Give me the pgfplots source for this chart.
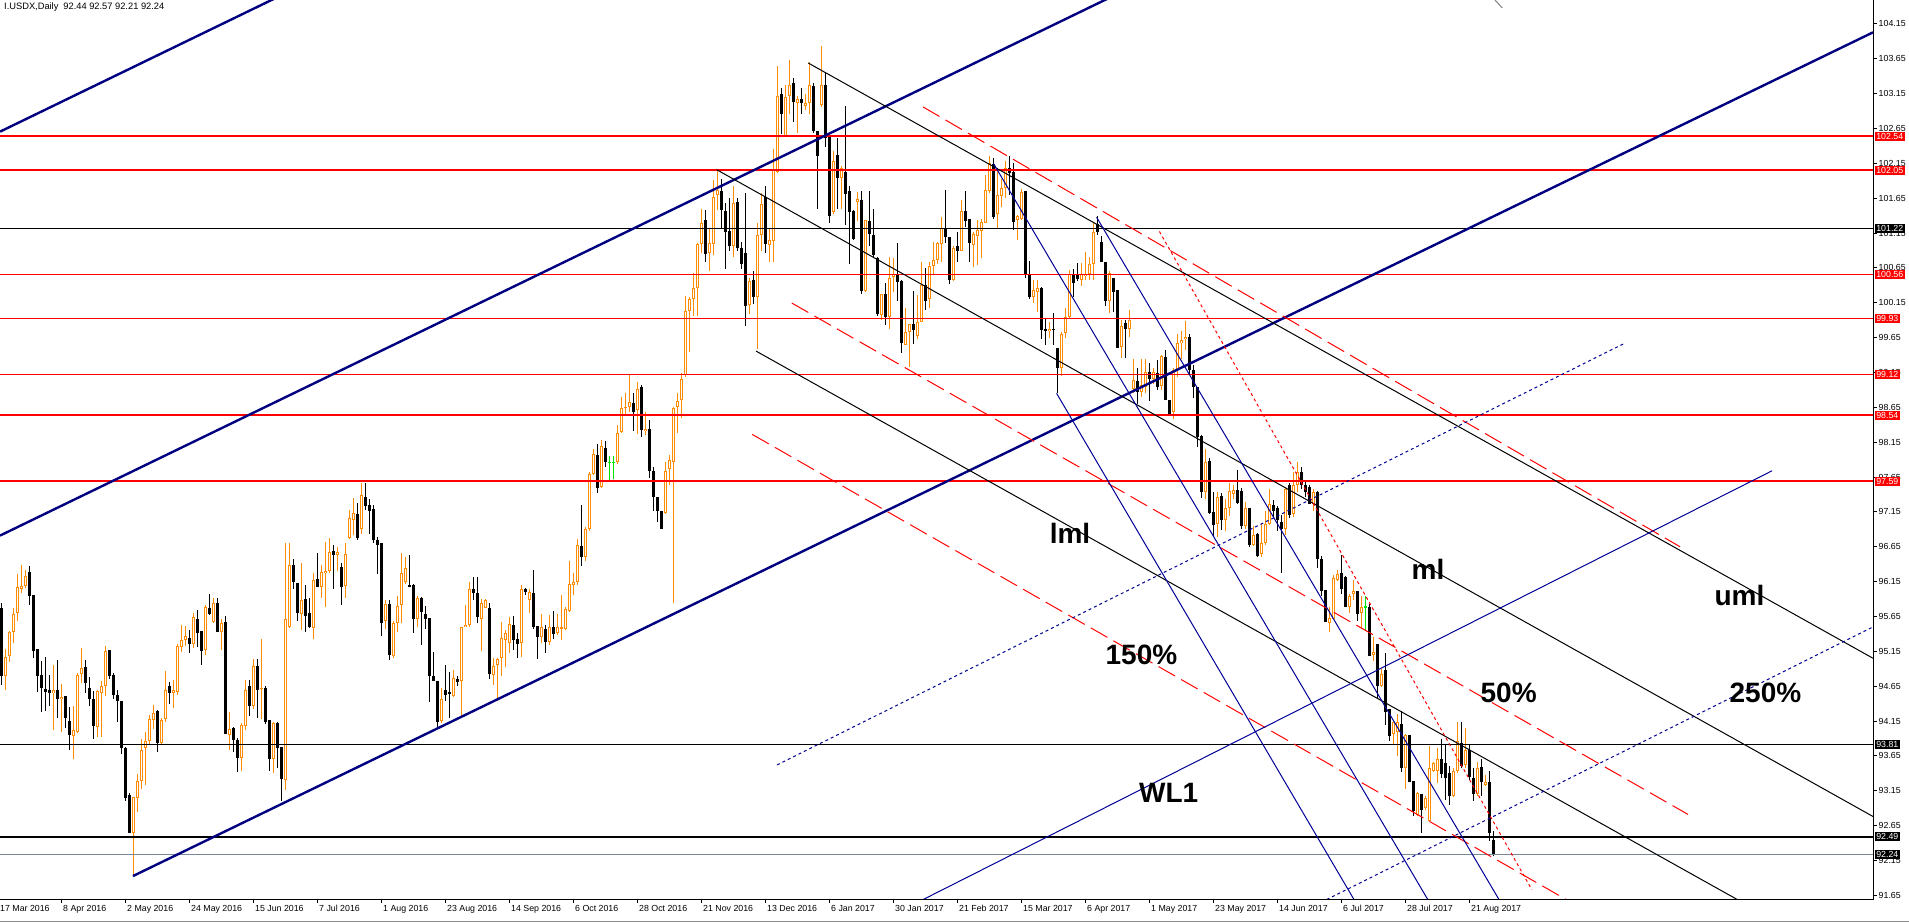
\documentclass[border=0pt]{standalone}
\usepackage{fontspec}
\setmainfont{Liberation Sans}
\usepackage{pgfplots}
\usepackage{pgfplotstable}
\pgfplotsset{compat=1.18}
\definecolor{mtorange}{RGB}{255,140,0}
\definecolor{navyc}{RGB}{0,0,128}
\definecolor{bluec}{RGB}{0,0,150}
\definecolor{slategr}{RGB}{119,136,153}
\definecolor{limec}{RGB}{0,230,0}

\pgfplotstableread{
x O H L C
2 94.80 95.18 94.59 95.07
3 95.09 95.44 95.00 95.43
4 95.43 95.77 95.27 95.69
5 95.70 96.26 95.58 96.07
6 96.05 96.39 95.99 96.09
7 96.09 96.32 96.06 96.23
14 94.55 94.96 94.02 94.59
16 94.47 94.68 94.00 94.50
19 93.94 94.36 93.61 94.02
20 93.99 94.84 93.98 94.81
21 94.82 95.20 94.70 94.91
25 94.07 94.60 93.92 94.58
26 94.56 94.73 93.92 94.66
27 94.66 95.23 94.51 95.15
34 92.55 93.06 91.93 93.06
35 93.04 93.39 92.85 93.29
36 93.29 93.89 93.18 93.74
37 93.76 93.99 93.24 93.87
38 93.87 94.24 93.81 94.18
39 94.17 94.38 94.04 94.27
41 93.84 94.20 93.80 94.16
42 94.18 94.87 94.14 94.60
44 94.56 94.74 94.34 94.60
45 94.57 95.26 94.53 95.23
46 95.22 95.53 95.14 95.31
47 95.31 95.51 95.23 95.37
49 95.26 95.70 95.20 95.64
52 95.17 95.81 95.09 95.79
54 95.57 95.92 95.55 95.85
56 95.42 95.62 95.17 95.55
58 93.95 94.28 93.74 94.04
61 93.62 94.12 93.44 94.10
62 94.08 94.74 94.02 94.60
64 94.36 95.04 94.32 94.94
66 94.61 95.33 94.18 94.63
69 93.60 94.14 93.41 94.12
72 93.31 96.71 93.16 95.61
73 95.50 96.71 95.49 96.39
76 95.69 96.42 95.46 95.89
79 95.48 96.28 95.32 96.18
81 96.08 96.39 95.92 96.29
82 96.27 96.72 95.79 96.30
83 96.30 96.77 96.28 96.57
85 96.53 96.65 96.30 96.58
87 96.08 96.70 95.92 96.55
88 96.77 97.18 96.76 97.06
89 97.04 97.35 96.82 97.14
91 96.91 97.57 96.83 97.40
97 95.59 95.88 95.47 95.83
99 95.08 95.58 95.05 95.55
100 95.55 95.94 95.43 95.80
101 95.81 96.56 95.55 96.27
102 96.15 96.50 96.12 96.35
105 95.62 95.94 95.50 95.92
111 94.15 94.62 94.12 94.46
114 94.51 94.88 94.49 94.76
116 94.73 95.50 94.21 95.50
117 95.50 95.81 95.50 95.53
118 95.53 96.14 95.50 96.05
121 95.62 95.90 95.16 95.85
122 95.77 95.90 95.77 95.89
124 94.81 95.05 94.67 94.94
125 94.95 95.06 94.44 95.04
126 95.05 95.57 94.80 95.34
127 95.31 95.46 94.93 95.41
128 95.27 95.65 95.12 95.54
131 95.27 96.10 95.07 96.05
133 95.88 96.04 95.70 96.00
136 95.36 95.69 95.27 95.50
138 95.29 95.67 95.24 95.50
140 95.41 95.69 95.38 95.50
141 95.48 95.96 95.31 95.49
142 95.47 95.79 95.45 95.76
143 95.73 96.44 95.72 96.12
144 96.10 96.27 95.96 96.15
145 96.15 96.76 96.10 96.67
147 96.51 96.94 96.44 96.90
148 96.90 97.73 96.87 97.70
149 97.70 98.05 97.68 97.98
151 97.51 98.18 97.49 98.09
155 97.86 98.40 97.84 98.29
156 98.29 98.80 98.28 98.64
157 98.64 98.85 98.56 98.66
158 98.66 99.13 98.59 98.72
160 98.61 99.01 98.27 98.92
162 98.31 98.59 98.25 98.34
167 97.14 97.86 97.12 97.74
168 97.76 97.97 97.54 97.89
169 97.87 98.66 95.85 98.64
170 98.66 98.85 98.29 98.74
171 98.76 99.14 98.50 99.06
172 99.11 100.25 99.09 100.04
173 100.03 100.24 99.45 100.20
174 100.20 100.58 99.96 100.37
175 100.36 101.01 99.96 100.99
176 101.00 101.49 100.86 101.30
178 100.86 101.22 100.61 101.01
179 101.00 101.91 100.84 101.67
180 101.70 102.06 101.48 101.77
184 100.97 101.82 100.81 101.58
188 100.12 100.50 99.99 100.47
190 100.23 101.29 99.48 101.13
191 101.13 101.72 100.89 101.57
193 100.98 101.21 100.73 101.05
194 101.04 102.35 100.73 102.05
195 102.03 103.55 102.01 103.12
197 102.55 103.28 102.53 103.11
198 103.12 103.64 102.86 103.28
200 103.02 103.12 102.59 103.07
202 102.98 103.15 102.92 103.02
203 103.02 103.60 102.86 103.27
206 102.99 103.84 102.96 103.27
209 101.45 102.33 101.42 102.19
211 101.94 102.11 101.50 102.09
215 101.60 101.74 101.32 101.64
217 100.32 101.34 100.31 101.34
221 99.98 100.28 99.91 100.27
223 99.94 100.80 99.78 100.50
224 100.52 100.80 100.31 100.57
227 99.55 100.07 99.55 99.73
228 99.73 99.85 99.23 99.84
230 99.67 100.26 99.63 99.88
231 99.88 100.73 99.87 100.41
233 100.20 100.73 100.07 100.68
234 100.68 101.02 100.57 100.77
235 100.76 101.02 100.71 101.01
236 100.99 101.38 100.73 101.23
239 100.48 100.97 100.47 100.94
241 100.90 101.63 100.90 101.46
244 100.98 101.17 100.67 101.14
245 101.11 101.34 100.69 101.20
246 101.18 101.36 100.79 101.31
247 101.29 101.99 101.29 101.77
248 101.75 102.26 101.72 102.15
250 101.43 102.08 101.22 101.69
251 101.68 101.92 101.53 101.79
252 101.79 102.19 101.65 102.09
255 101.34 101.41 101.05 101.39
256 101.35 101.79 101.34 101.74
259 100.23 100.48 100.14 100.34
260 100.31 100.48 100.02 100.37
263 99.74 99.88 99.64 99.77
266 99.22 99.73 99.10 99.70
267 99.71 100.07 99.64 99.94
268 99.94 100.62 99.93 100.57
271 100.48 100.72 100.39 100.57
272 100.54 100.88 100.48 100.57
273 100.56 100.81 100.48 100.71
274 100.71 101.29 100.48 101.17
278 100.17 100.60 100.01 100.58
281 99.52 99.91 99.36 99.82
283 99.78 100.05 99.66 99.91
284 98.92 99.34 98.85 99.04
286 98.87 99.34 98.80 98.97
287 98.94 99.34 98.85 99.15
289 99.05 99.22 98.98 99.15
291 98.95 99.40 98.90 99.39
294 98.59 99.21 98.48 99.19
295 99.18 99.71 99.09 99.58
296 99.57 99.74 99.35 99.62
297 99.63 99.89 99.47 99.66
302 97.44 98.06 97.33 97.86
305 96.98 97.43 96.79 97.37
307 97.03 97.33 96.87 97.20
308 97.20 97.57 97.09 97.45
309 97.40 97.54 97.33 97.47
312 96.95 97.29 96.90 97.21
314 96.68 96.95 96.66 96.82
316 96.55 96.98 96.50 96.71
317 96.71 97.16 96.68 96.98
318 96.98 97.48 96.96 97.27
322 96.90 97.51 96.82 97.48
324 97.12 97.72 97.08 97.53
325 97.53 97.86 97.43 97.73
329 97.27 97.48 97.16 97.44
333 95.56 95.78 95.43 95.63
334 95.62 96.25 95.61 96.20
335 96.18 96.32 96.16 96.26
338 95.79 95.98 95.70 95.94
339 95.97 96.18 95.89 96.02
341 95.70 95.94 95.49 95.79
344 95.10 95.35 95.01 95.14
346 94.65 94.89 94.64 94.83
349 93.96 94.14 93.81 94.14
350 94.00 94.25 93.65 94.13
352 93.47 93.97 93.17 93.95
355 92.80 93.13 92.79 93.12
357 92.90 93.07 92.88 93.04
358 92.72 93.79 92.71 93.47
359 93.44 93.56 93.42 93.55
360 93.44 93.77 93.26 93.61
364 93.07 93.48 93.06 93.44
365 93.44 94.14 93.41 93.86
367 93.52 94.05 93.47 93.73
370 93.10 93.56 93.08 93.48
372 93.23 93.38 93.22 93.28
}\bull

\pgfplotstableread{
x O H L C
1 95.77 95.84 94.66 94.80
8 96.29 96.37 95.81 95.95
9 95.96 95.96 95.06 95.16
10 95.18 95.19 94.56 94.79
11 94.81 95.01 94.28 94.62
12 94.61 95.07 94.30 94.57
13 94.60 94.81 94.37 94.56
15 94.59 95.03 94.19 94.47
17 94.51 94.51 94.05 94.20
18 94.15 94.35 93.73 93.95
22 94.92 95.03 94.56 94.70
23 94.63 94.78 94.37 94.46
24 94.47 94.58 93.89 94.08
28 95.17 95.17 94.75 94.80
29 94.81 94.84 94.47 94.52
30 94.52 94.60 94.14 94.44
31 94.44 94.44 93.68 93.77
32 93.77 93.78 93.01 93.05
33 93.09 93.12 92.54 92.55
40 94.29 94.31 93.70 93.83
43 94.65 94.71 94.39 94.56
48 95.34 95.46 95.13 95.26
50 95.61 95.74 95.22 95.42
51 95.44 95.44 94.95 95.15
53 95.77 95.98 95.67 95.69
55 95.84 95.92 95.42 95.42
57 95.57 95.66 93.97 93.97
59 94.05 94.06 93.70 93.88
60 93.88 93.90 93.42 93.62
63 94.65 94.74 94.23 94.36
65 94.94 95.04 94.19 94.60
67 94.63 94.65 94.11 94.14
68 94.16 94.17 93.44 93.61
70 94.12 94.14 93.47 93.76
71 93.78 93.78 93.01 93.32
74 96.39 96.47 96.05 96.14
75 96.13 96.13 95.58 95.70
77 95.90 96.10 95.43 95.65
78 95.70 95.91 95.48 95.50
80 96.19 96.56 96.07 96.07
84 96.59 96.67 96.04 96.53
86 96.36 96.42 95.81 96.08
90 97.12 97.28 96.74 96.77
92 97.37 97.57 97.18 97.24
93 97.25 97.34 96.83 97.17
94 97.19 97.25 96.71 96.75
95 96.75 96.79 96.26 96.67
96 96.70 96.70 95.37 95.55
98 95.83 95.89 95.02 95.10
103 96.10 96.53 96.08 96.08
104 96.10 96.12 95.41 95.61
106 95.91 95.93 95.24 95.72
107 95.69 95.80 95.47 95.62
108 95.63 95.63 94.43 94.80
109 94.80 95.14 94.73 94.73
110 94.73 94.73 94.07 94.14
112 94.60 94.95 94.43 94.53
113 94.57 94.86 94.19 94.55
115 94.76 94.79 94.65 94.71
119 96.04 96.22 95.89 95.98
120 95.98 96.22 95.55 95.64
123 95.77 95.85 94.75 94.82
129 95.53 95.66 95.17 95.32
130 95.32 95.41 95.05 95.26
132 96.04 96.06 95.96 96.00
134 95.98 96.32 95.47 95.50
135 95.52 95.52 95.04 95.36
137 95.47 95.53 95.12 95.29
139 95.50 95.73 95.32 95.40
146 96.66 97.25 96.38 96.51
150 97.97 98.13 97.42 97.49
152 98.06 98.17 97.80 97.86
159 98.72 98.85 98.31 98.59
161 98.94 98.97 98.23 98.32
163 98.34 98.47 97.63 97.73
164 97.73 97.80 97.17 97.37
165 97.36 97.36 97.01 97.16
166 97.16 97.16 96.91 96.91
177 101.34 101.48 100.73 100.85
181 101.75 101.93 101.21 101.48
182 101.47 101.58 100.64 101.17
183 101.18 101.66 100.90 100.96
185 101.59 101.66 100.89 100.93
186 100.93 101.02 100.63 100.71
187 100.86 101.72 99.82 100.10
189 100.47 100.60 100.13 100.23
192 101.67 101.82 100.86 100.99
196 103.14 103.23 102.57 102.86
199 103.30 103.37 102.74 103.03
201 103.08 103.23 102.86 103.01
204 103.26 103.31 102.58 102.62
205 102.62 102.62 101.50 102.25
207 103.28 103.44 102.38 102.51
208 102.56 102.56 101.29 101.40
210 102.27 102.51 101.50 101.94
212 102.03 102.97 101.26 101.71
213 101.75 101.82 100.71 101.45
214 101.47 101.48 101.05 101.07
216 101.62 101.75 100.28 100.32
218 101.33 101.75 100.97 101.13
219 101.13 101.50 100.81 100.84
220 100.80 100.80 99.96 99.99
222 100.28 100.44 99.83 99.95
225 100.56 101.01 100.17 100.45
226 100.47 100.47 99.43 99.58
229 99.85 100.32 99.56 99.76
232 100.41 100.65 100.05 100.17
237 101.23 101.77 101.01 101.09
238 101.10 101.10 100.42 100.48
240 100.96 101.16 100.73 100.90
242 101.47 101.76 101.24 101.33
243 101.35 101.35 100.74 101.01
249 102.14 102.23 101.36 101.38
253 102.08 102.26 101.70 102.01
254 102.03 102.16 101.20 101.31
257 101.75 101.75 100.50 100.55
258 100.56 100.75 100.21 100.23
261 100.37 100.37 99.63 99.76
262 99.78 99.93 99.54 99.74
264 99.78 100.01 99.54 99.76
265 99.50 99.50 98.85 99.22
269 100.57 100.63 100.24 100.44
270 100.56 100.72 100.47 100.49
275 101.28 101.39 101.12 101.16
276 101.03 101.11 100.73 100.73
277 100.74 100.74 100.10 100.18
279 100.50 100.50 100.02 100.31
280 100.33 100.33 99.50 99.50
282 99.86 99.90 99.36 99.78
285 99.03 99.22 98.70 98.87
288 99.15 99.28 98.74 99.05
290 99.14 99.33 98.90 98.94
292 99.37 99.47 98.75 98.75
293 98.75 98.75 98.54 98.54
298 99.66 99.71 99.13 99.18
299 99.18 99.26 98.78 98.94
300 98.94 98.94 98.08 98.22
301 98.24 98.25 97.35 97.44
303 97.88 97.93 97.12 97.13
304 97.15 97.44 96.79 96.96
306 97.38 97.42 96.89 97.03
310 97.46 97.75 97.26 97.28
311 97.45 97.50 96.90 96.95
313 97.20 97.20 96.64 96.68
315 96.83 96.85 96.51 96.52
319 97.25 97.32 97.08 97.17
320 97.20 97.24 96.87 97.03
321 97.01 97.11 96.28 96.90
323 97.53 97.56 97.06 97.11
326 97.72 97.80 97.48 97.53
327 97.53 97.61 97.37 97.43
328 97.51 97.53 97.26 97.27
330 97.43 97.45 96.35 96.47
331 96.48 96.52 95.94 96.02
332 96.03 96.03 95.57 95.57
336 96.27 96.53 95.97 96.05
337 96.22 96.23 95.78 95.79
340 96.02 96.02 95.59 95.68
343 95.79 95.83 95.08 95.09
345 95.25 95.25 94.48 94.65
347 94.88 95.12 94.09 94.28
348 94.32 94.32 93.87 93.93
351 94.11 94.30 93.42 93.47
353 93.95 93.95 93.27 93.28
354 93.29 93.29 92.79 92.86
356 93.10 93.10 92.54 92.88
361 93.61 93.89 93.34 93.39
362 93.55 93.81 93.02 93.33
363 93.41 93.50 92.94 93.07
366 93.84 94.14 93.48 93.50
368 93.73 93.81 93.31 93.34
369 93.34 93.47 93.01 93.10
371 93.49 93.61 93.07 93.28
373 93.28 93.44 92.43 92.54
374 92.44 92.57 92.21 92.24
}\bear

\pgfplotstableread{
x O H L C
153 97.86 97.96 97.61 97.86
154 97.86 97.96 97.63 97.86
342 95.79 95.94 95.46 95.79
}\doji

\pgfplotsset{
  ebar/.style 2 args={draw=none, mark=none,
    /pgfplots/error bars/y dir=both,
    /pgfplots/error bars/y explicit,
    /pgfplots/error bars/error mark=none,
    /pgfplots/error bars/error bar style={draw=#1, line width=#2, solid}},
}
\tikzset{
  smallf/.style={font=\fontsize{8.8bp}{10bp}\selectfont},
  ylbl/.style={smallf, anchor=west, inner sep=0pt, xshift=5.5bp},
  dlbl/.style={smallf, anchor=base west, inner sep=0pt, xshift=2bp, yshift=-11.5bp},
  vbox/.style={smallf, anchor=west, inner xsep=1.6bp, inner ysep=0pt, minimum height=9bp, xshift=1.5bp, text=white},
  plab/.style={inner sep=0pt, font=\bfseries\fontsize{28bp}{30bp}\selectfont},
}

\begin{document}
\begin{tikzpicture}[x=1bp,y=1bp]
\begin{axis}[
  scale only axis, width=1873bp, height=899.6bp,
  xmin=0.75, xmax=469, ymin=91.588, ymax=104.494,
  enlargelimits=false,
  axis line style={draw=none},
  clip mode=individual,
  xtick={16,32,...,368}, xticklabels={}, xtick pos=left,
  ytick={91.65,92.15,92.65,93.15,93.65,94.15,94.65,95.15,95.65,96.15,96.65,97.15,97.65,98.15,98.65,99.15,99.65,100.15,100.65,101.15,101.65,102.15,102.65,103.15,103.65,104.15},
  yticklabels={}, ytick pos=right,
  tick align=outside, major tick length=3.5bp,
  tick style={black, line width=1bp},
]
\coordinate (SW) at (rel axis cs:0,0);
% candles: wicks then bodies
\addplot[ebar={mtorange}{1bp}] table[x=x, y expr={(\thisrow{H}+\thisrow{L})/2}, y error expr={(\thisrow{H}-\thisrow{L})/2}] {\bull};
\addplot[ebar={black}{1bp}] table[x=x, y expr={(\thisrow{H}+\thisrow{L})/2}, y error expr={(\thisrow{H}-\thisrow{L})/2}] {\bear};
\addplot[ebar={limec}{1bp}] table[x=x, y expr={(\thisrow{H}+\thisrow{L})/2}, y error expr={(\thisrow{H}-\thisrow{L})/2}] {\doji};
\addplot[ebar={mtorange}{3bp}] table[x=x, y expr={(\thisrow{O}+\thisrow{C})/2}, y error expr={max((\thisrow{C}-\thisrow{O})/2,0.007)}] {\bull};
\addplot[ebar={white}{1bp}] table[x=x, y expr={(\thisrow{O}+\thisrow{C})/2}, y error expr={max((\thisrow{C}-\thisrow{O})/2-0.01435,0)}] {\bull};
\addplot[ebar={black}{3bp}] table[x=x, y expr={(\thisrow{O}+\thisrow{C})/2}, y error expr={max((\thisrow{O}-\thisrow{C})/2,0.007)}] {\bear};
\addplot[ebar={limec}{3bp}] table[x=x, y expr={\thisrow{O}}, y error expr={0.007}] {\doji};

% horizontal levels
\addplot[red, line width=2bp] coordinates {(0.75,102.54) (469,102.54)};
\addplot[red, line width=2bp] coordinates {(0.75,102.05) (469,102.05)};
\addplot[black, line width=1bp] coordinates {(0.75,101.22) (469,101.22)};
\addplot[red, line width=1bp] coordinates {(0.75,100.56) (469,100.56)};
\addplot[red, line width=1bp] coordinates {(0.75,99.93) (469,99.93)};
\addplot[red, line width=1bp] coordinates {(0.75,99.12) (469,99.12)};
\addplot[red, line width=2bp] coordinates {(0.75,98.54) (469,98.54)};
\addplot[red, line width=2bp] coordinates {(0.75,97.59) (469,97.59)};
\addplot[black, line width=1bp] coordinates {(0.75,93.81) (469,93.81)};
\addplot[black, line width=2bp] coordinates {(0.75,92.49) (469,92.49)};
\addplot[slategr, line width=1bp] coordinates {(0.75,92.24) (469,92.24)};

% thick navy channel
\addplot[navyc, line width=2.4bp] coordinates {(0.75,102.605) (80,104.81)};
\addplot[navyc, line width=2.4bp] coordinates {(0.75,96.81) (300,105.135)};
\addplot[navyc, line width=2.4bp] coordinates {(34,91.926) (469,104.03)};

% black pitchfork
\addplot[black, line width=1bp] coordinates {(202.8,103.59) (469,95.05)};
\addplot[black, line width=1bp] coordinates {(179.9,102.06) (469,92.78)};
\addplot[black, line width=1bp] coordinates {(189.75,99.457) (445,91.27)};

% red dashed levels
\addplot[red, line width=1bp, dash pattern=on 19bp off 7bp] coordinates {(231.5,102.96) (420.75,96.65)};
\addplot[red, line width=1bp, dash pattern=on 19bp off 7bp] coordinates {(198.7,100.146) (422.75,92.81)};
\addplot[red, line width=1bp, dash pattern=on 19bp off 7bp] coordinates {(188.8,98.262) (395,91.50)};
% red dotted steep
\addplot[red, line width=1bp, dash pattern=on 3bp off 3bp] coordinates {(290.6,101.173) (383.7,91.73)};

% blue pitchfork
\addplot[bluec, line width=1bp] coordinates {(249.1,102.15) (357.7,91.588)};
\addplot[bluec, line width=1bp] coordinates {(274.9,101.377) (375.5,91.588)};
\addplot[bluec, line width=1bp] coordinates {(264.9,98.85) (339.25,91.588)};
\addplot[bluec, line width=1bp] coordinates {(231.5,91.588) (443.75,97.74)};
\addplot[bluec, line width=1bp, dash pattern=on 3bp off 3bp] coordinates {(195,93.52) (406.75,99.565)};
\addplot[bluec, line width=1bp, dash pattern=on 3bp off 3bp] coordinates {(332.4,91.588) (469,95.50)};
% short grey stub at the top edge
\addplot[gray, line width=1bp] coordinates {(373.6,104.55) (376.3,104.38)};

% axis lines
\draw[black, line width=1bp] (rel axis cs:0,0) -- (rel axis cs:1,0) -- (rel axis cs:1,1);

% right price labels
\pgfplotsinvokeforeach{104.15,103.65,103.15,102.65,102.15,101.65,101.15,100.65,100.15,99.65,99.15,98.65,98.15,97.65,97.15,96.65,96.15,95.65,95.15,94.65,94.15,93.65,93.15,92.65,92.15,91.65}{
  \node[ylbl] at (axis cs:469,#1) {#1};
}
% value boxes
\node[vbox, fill=red] at (axis cs:469,102.54) {102.54};
\node[vbox, fill=red] at (axis cs:469,102.05) {102.05};
\node[vbox, fill=black] at (axis cs:469,101.22) {101.22};
\node[vbox, fill=red] at (axis cs:469,100.56) {100.56};
\node[vbox, fill=red] at (axis cs:469,99.93) {99.93};
\node[vbox, fill=red] at (axis cs:469,99.12) {99.12};
\node[vbox, fill=red] at (axis cs:469,98.54) {98.54};
\node[vbox, fill=red] at (axis cs:469,97.59) {97.59};
\node[vbox, fill=black] at (axis cs:469,93.81) {93.81};
\node[vbox, fill=black] at (axis cs:469,92.49) {92.49};
\node[vbox, fill=black] at (axis cs:469,92.24) {92.24};

% date labels
\node[smallf, anchor=base west, inner sep=0pt, yshift=-11.5bp] at (axis cs:0.75,91.588) {17 Mar 2016};
\node[dlbl] at (axis cs:16,91.588) {8 Apr 2016};
\node[dlbl] at (axis cs:32,91.588) {2 May 2016};
\node[dlbl] at (axis cs:48,91.588) {24 May 2016};
\node[dlbl] at (axis cs:64,91.588) {15 Jun 2016};
\node[dlbl] at (axis cs:80,91.588) {7 Jul 2016};
\node[dlbl] at (axis cs:96,91.588) {1 Aug 2016};
\node[dlbl] at (axis cs:112,91.588) {23 Aug 2016};
\node[dlbl] at (axis cs:128,91.588) {14 Sep 2016};
\node[dlbl] at (axis cs:144,91.588) {6 Oct 2016};
\node[dlbl] at (axis cs:160,91.588) {28 Oct 2016};
\node[dlbl] at (axis cs:176,91.588) {21 Nov 2016};
\node[dlbl] at (axis cs:192,91.588) {13 Dec 2016};
\node[dlbl] at (axis cs:208,91.588) {6 Jan 2017};
\node[dlbl] at (axis cs:224,91.588) {30 Jan 2017};
\node[dlbl] at (axis cs:240,91.588) {21 Feb 2017};
\node[dlbl] at (axis cs:256,91.588) {15 Mar 2017};
\node[dlbl] at (axis cs:272,91.588) {6 Apr 2017};
\node[dlbl] at (axis cs:288,91.588) {1 May 2017};
\node[dlbl] at (axis cs:304,91.588) {23 May 2017};
\node[dlbl] at (axis cs:320,91.588) {14 Jun 2017};
\node[dlbl] at (axis cs:336,91.588) {6 Jul 2017};
\node[dlbl] at (axis cs:352,91.588) {28 Jul 2017};
\node[dlbl] at (axis cs:368,91.588) {21 Aug 2017};

% pitchfork labels
\node[plab] at (axis cs:268.25,96.84) {lml};
\node[plab] at (axis cs:357.75,96.33) {ml};
\node[plab] at (axis cs:435.6,95.95) {uml};
\node[plab] at (axis cs:286.1,95.10) {150\%};
\node[plab] at (axis cs:377.9,94.56) {50\%};
\node[plab] at (axis cs:442.1,94.55) {250\%};
\node[plab] at (axis cs:292.9,93.12) {WL1};

% title
\node[anchor=base west, inner sep=0pt, xshift=4bp, yshift=-10bp, font=\fontsize{9.3bp}{11bp}\selectfont] at (rel axis cs:0,1) {I.USDX,Daily\hspace{5bp}92.44 92.57 92.21 92.24};
\end{axis}
\pgfresetboundingbox
\path[use as bounding box] ([yshift=-23.4bp]SW) rectangle ([xshift=1909bp,yshift=899.6bp]SW);
\draw[black!45, line width=1.5bp] ([yshift=-21.9bp]SW) -- ([xshift=1909bp,yshift=-21.9bp]SW);
\end{tikzpicture}
\end{document}
